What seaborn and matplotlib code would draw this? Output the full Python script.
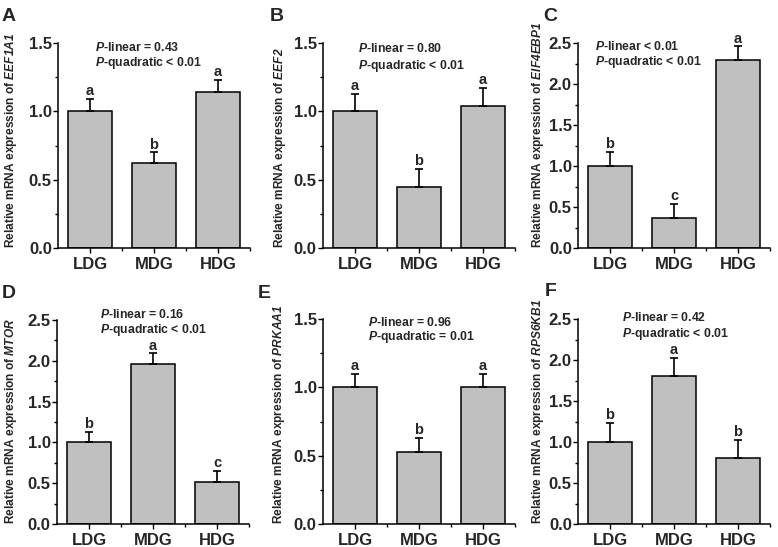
import matplotlib
matplotlib.use('Agg')
import matplotlib.pyplot as plt
import numpy as np
import pandas as pd
import seaborn as sns
from matplotlib.ticker import MultipleLocator, FixedLocator

# Data
groups = ['LDG', 'MDG', 'HDG']
genes = ['EEF1A1', 'EEF2', 'EIF4EBP1', 'MTOR', 'PRKAA1', 'RPS6KB1']
panel_labels = ['A', 'B', 'C', 'D', 'E', 'F']

eef1a1_mean = [1.00, 0.62, 1.14]
eef1a1_err = [0.09, 0.08, 0.09]
eef2_mean = [1.00, 0.45, 1.04]
eef2_err = [0.13, 0.13, 0.13]
eif4ebp1_mean = [1.00, 0.37, 2.29]
eif4ebp1_err = [0.17, 0.17, 0.17]
mtor_mean = [1.00, 1.96, 0.52]
mtor_err = [0.13, 0.13, 0.13]
prkaa1_mean = [1.00, 0.53, 1.00]
prkaa1_err = [0.10, 0.10, 0.10]
rps6kb1_mean = [1.00, 1.80, 0.80]
rps6kb1_err = [0.23, 0.23, 0.23]

means = [eef1a1_mean, eef2_mean, eif4ebp1_mean, mtor_mean, prkaa1_mean, rps6kb1_mean]
errs = [eef1a1_err, eef2_err, eif4ebp1_err, mtor_err, prkaa1_err, rps6kb1_err]

sig_letters = [['a', 'b', 'a'], ['a', 'b', 'a'], ['b', 'c', 'a'],
               ['b', 'a', 'c'], ['a', 'b', 'a'], ['b', 'a', 'b']]
p_linear = ['= 0.43', '= 0.80', '< 0.01', '= 0.16', '= 0.96', '= 0.42']
p_quadratic = ['< 0.01', '< 0.01', '< 0.01', '< 0.01', '= 0.01', '< 0.01']
y_max = [1.5, 1.5, 2.5, 2.5, 1.5, 2.5]

sns.set_style('ticks')
plt.rcParams['font.family'] = ['Liberation Sans', 'DejaVu Sans']
plt.rcParams['font.weight'] = 'bold'
plt.rcParams['mathtext.fontset'] = 'custom'
plt.rcParams['mathtext.rm'] = 'Liberation Sans:bold'
plt.rcParams['mathtext.bf'] = 'Liberation Sans:bold'
plt.rcParams['mathtext.it'] = 'Liberation Sans:italic:bold'
plt.rcParams['mathtext.bfit'] = 'Liberation Sans:italic:bold'

W, H = 778, 547
fig = plt.figure(figsize=(W / 100, H / 100), dpi=100)

# axes boxes in pixels: left, top, right, bottom
boxes = [(58, 43, 250, 248), (323, 43, 515, 248), (578, 43, 770, 248),
         (57, 320, 249, 524), (323, 319, 515, 524), (578, 319, 770, 524)]
ylab_x = [-0.203, -0.182, -0.167, -0.198, -0.187, -0.167]
p_pos = [(0.193, 0.98, 0.902), (0.182, 0.971, 0.89), (0.089, 0.985, 0.907),
         (0.224, 1.025, 0.953), (0.234, 0.985, 0.912), (0.229, 1.005, 0.927)]
letter_pos = [(2, 8), (270, 8), (543, 8), (2, 285), (258, 285), (545, 283)]

for k in range(6):
    l, t, r, b = boxes[k]
    ax = fig.add_axes([l / W, 1 - b / H, (r - l) / W, (b - t) / H])
    df = pd.DataFrame({'group': groups, 'value': means[k]})
    sns.barplot(data=df, x='group', y='value', color='#c0c0c0', saturation=1,
                edgecolor='black', linewidth=1.1, width=0.69, errorbar=None, ax=ax)
    x = np.arange(len(groups))
    ax.errorbar(x, means[k], yerr=[np.zeros(3), errs[k]], fmt='none', ecolor='black',
                elinewidth=1.2, capsize=3.2, capthick=1.2)
    for i in range(3):
        ax.annotate(sig_letters[k][i], (x[i], means[k][i] + errs[k][i]),
                    xytext=(0, 0.5), textcoords='offset points', ha='center', va='bottom',
                    fontsize=10.5, fontweight='bold')

    px, py1, py2 = p_pos[k]
    ax.text(px, py1, '$\\bfit{P}$-linear ' + p_linear[k], transform=ax.transAxes,
            fontsize=8.8, fontweight='bold', va='center')
    ax.text(px, py2, '$\\bfit{P}$-quadratic ' + p_quadratic[k], transform=ax.transAxes,
            fontsize=8.8, fontweight='bold', va='center')

    ax.set_xlim(-0.5, 2.5)
    ax.set_ylim(0, y_max[k])
    ax.yaxis.set_major_locator(MultipleLocator(0.5))
    ax.yaxis.set_minor_locator(MultipleLocator(0.25))
    ax.xaxis.set_minor_locator(FixedLocator([0.5, 1.5, 2.5]))
    ax.yaxis.set_major_formatter(matplotlib.ticker.FormatStrFormatter('%.1f'))
    ax.tick_params(axis='both', which='major', direction='out', length=3.5, width=1.0,
                   labelsize=12, color='black')
    ax.tick_params(axis='both', which='minor', direction='out', length=2, width=1.0, color='black')
    ax.tick_params(axis='y', pad=1)
    ax.tick_params(axis='x', pad=3)
    for lab in ax.get_xticklabels() + ax.get_yticklabels():
        lab.set_fontweight('bold')

    for s in ['top', 'right']:
        ax.spines[s].set_visible(False)
    for s in ['left', 'bottom']:
        ax.spines[s].set_linewidth(1.1)
        ax.spines[s].set_color('black')

    ax.set_xlabel('')
    ax.set_ylabel('Relative mRNA expression of $\\bfit{' + genes[k] + '}$',
                  fontsize=8.6, fontweight='bold')
    ax.yaxis.label.set_ha('left')
    ax.yaxis.set_label_coords(ylab_x[k], 0)

    lx, ly = letter_pos[k]
    fig.text(lx / W, 1 - ly / H, panel_labels[k], fontsize=14, fontweight='bold',
             va='top', ha='left')

fig.savefig('out.png', dpi=100)
